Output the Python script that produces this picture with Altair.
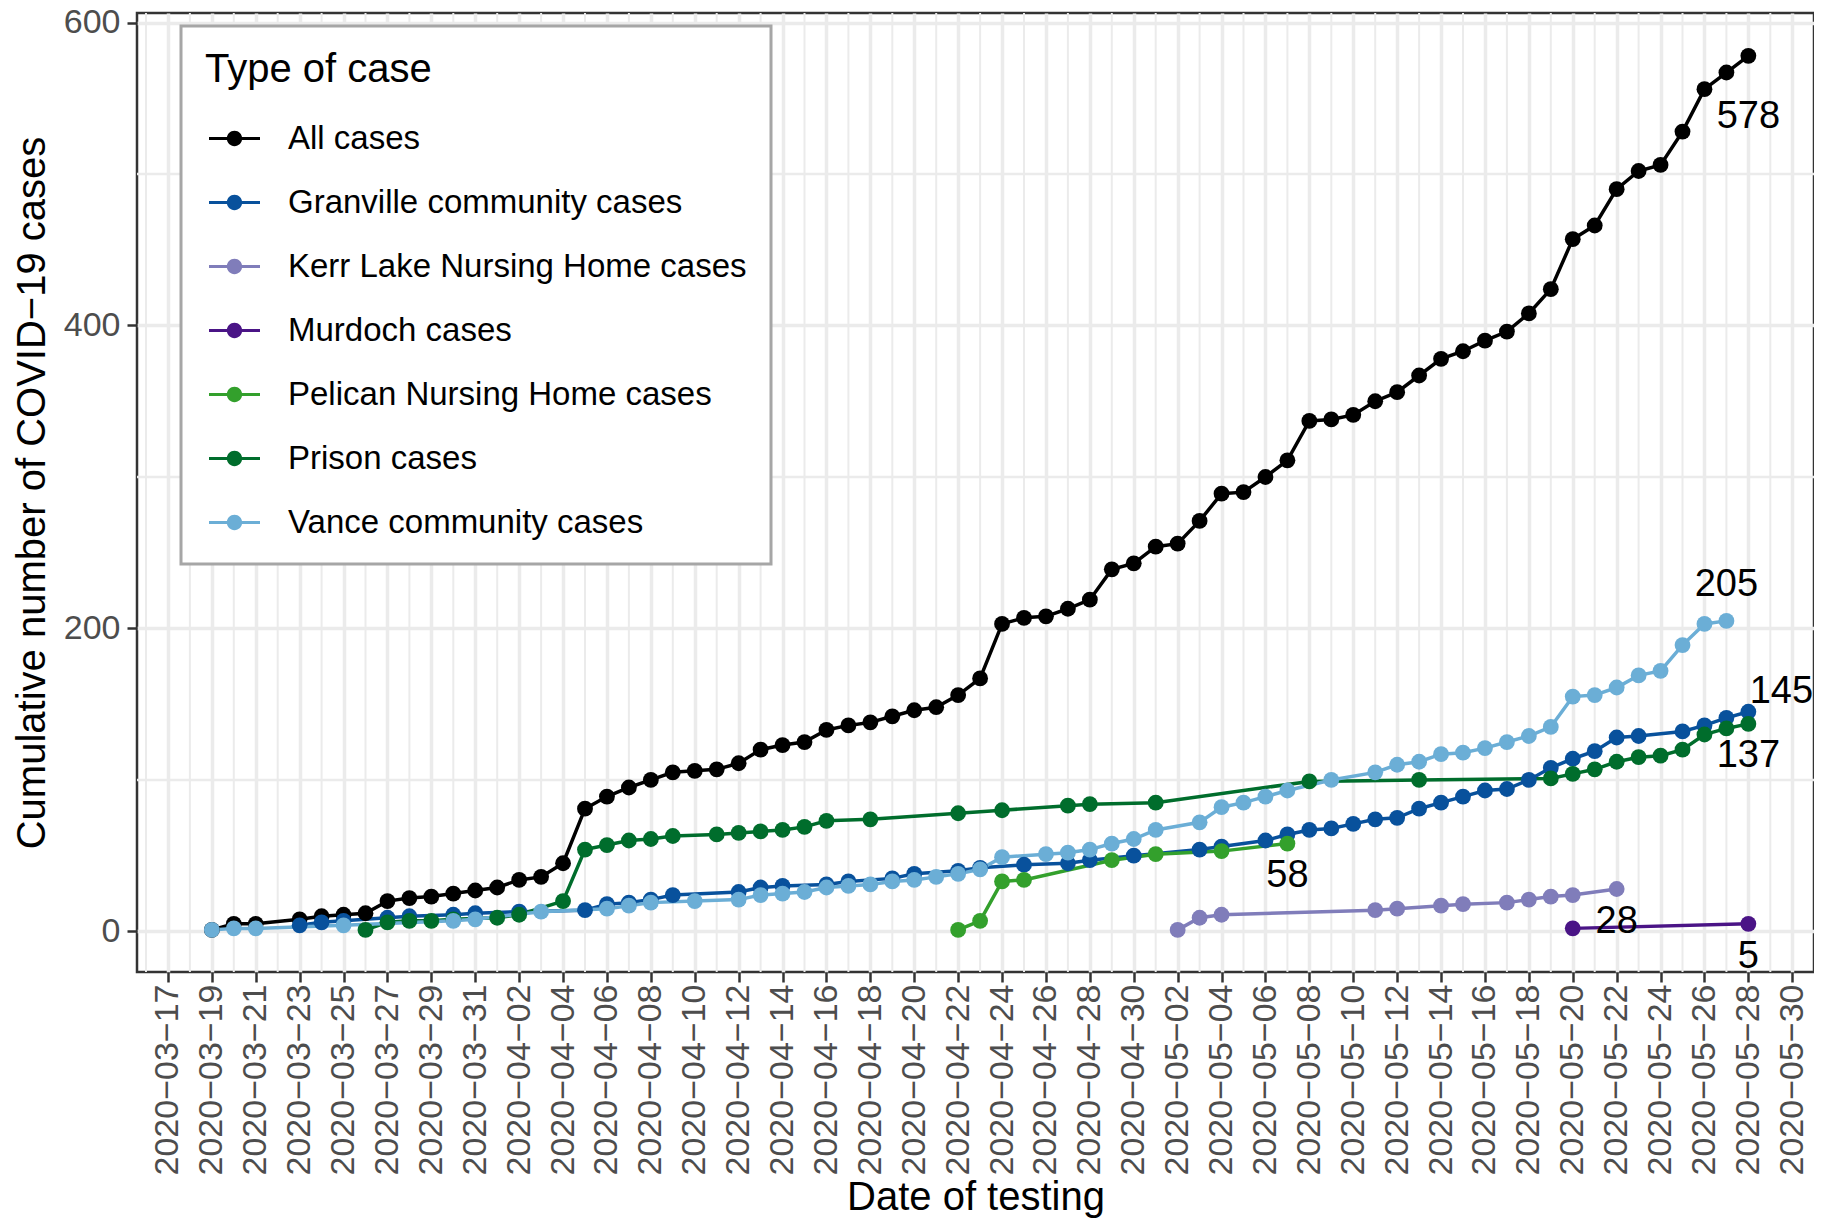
import altair as alt
import pandas as pd

FONT = "Liberation Sans"
MINUS = "\u2212"

series_names = [
    "All cases",
    "Granville community cases",
    "Kerr Lake Nursing Home cases",
    "Murdoch cases",
    "Pelican Nursing Home cases",
    "Prison cases",
    "Vance community cases",
]
series_colors = ["#000000", "#08519C", "#807DBA", "#4A1486", "#33A02C", "#006D2C", "#6BAED6"]

all_dates = ["03-19", "03-20", "03-21", "03-23", "03-24", "03-25", "03-26", "03-27", "03-28", "03-29",
             "03-30", "03-31", "04-01", "04-02", "04-03", "04-04", "04-05", "04-06", "04-07", "04-08",
             "04-09", "04-10", "04-11", "04-12", "04-13", "04-14", "04-15", "04-16", "04-17", "04-18",
             "04-19", "04-20", "04-21", "04-22", "04-23", "04-24", "04-25", "04-26", "04-27", "04-28",
             "04-29", "04-30", "05-01", "05-02", "05-03", "05-04", "05-05", "05-06", "05-07", "05-08",
             "05-09", "05-10", "05-11", "05-12", "05-13", "05-14", "05-15", "05-16", "05-17", "05-18",
             "05-19", "05-20", "05-21", "05-22", "05-23", "05-24", "05-25", "05-26", "05-27", "05-28"]
all_values = [1, 5, 5, 8, 10, 11, 12, 20, 22, 23,
              25, 27, 29, 34, 36, 45, 81, 89, 95, 100,
              105, 106, 107, 111, 120, 123, 125, 133, 136, 138,
              142, 146, 148, 156, 167, 203, 207, 208, 213, 219,
              239, 243, 254, 256, 271, 289, 290, 300, 311, 337,
              338, 341, 350, 356, 367, 378, 383, 390, 396, 408,
              424, 457, 466, 490, 502, 506, 528, 556, 567, 578]

granville_dates = ["03-23", "03-24", "03-25", "03-27", "03-28", "03-30", "03-31", "04-02", "04-05", "04-06",
                   "04-07", "04-08", "04-09", "04-12", "04-13", "04-14", "04-16", "04-17", "04-19", "04-20",
                   "04-22", "04-23", "04-25", "04-27", "04-28", "04-30", "05-03", "05-04", "05-06", "05-07",
                   "05-08", "05-09", "05-10", "05-11", "05-12", "05-13", "05-14", "05-15", "05-16", "05-17",
                   "05-18", "05-19", "05-20", "05-21", "05-22", "05-23", "05-25", "05-26", "05-27", "05-28"]
granville_values = [4, 6, 7, 9, 10, 11, 12, 13, 14, 18,
                    19, 21, 24, 26, 29, 30, 31, 33, 35, 38,
                    40, 42, 44, 45, 47, 50, 54, 56, 60, 64,
                    67, 68, 71, 74, 75, 81, 85, 89, 93, 94,
                    100, 108, 114, 119, 128, 129, 132, 136, 141, 145]

kerr_dates = ["05-02", "05-03", "05-04", "05-11", "05-12", "05-14", "05-15", "05-17", "05-18", "05-19",
              "05-20", "05-22"]
kerr_values = [1, 9, 11, 14, 15, 17, 18, 19, 21, 23, 24, 28]

murdoch_dates = ["05-20", "05-28"]
murdoch_values = [2, 5]

pelican_dates = ["04-22", "04-23", "04-24", "04-25", "04-29", "05-01", "05-04", "05-07"]
pelican_values = [1, 7, 33, 34, 47, 51, 53, 58]

prison_dates = ["03-26", "03-27", "03-28", "03-29", "03-30", "04-01", "04-02", "04-04", "04-05", "04-06",
                "04-07", "04-08", "04-09", "04-11", "04-12", "04-13", "04-14", "04-15", "04-16", "04-18",
                "04-22", "04-24", "04-27", "04-28", "05-01", "05-08", "05-13", "05-19", "05-20", "05-21",
                "05-22", "05-23", "05-24", "05-25", "05-26", "05-27", "05-28"]
prison_values = [1, 6, 7, 7, 8, 9, 11, 20, 54, 57,
                 60, 61, 63, 64, 65, 66, 67, 69, 73, 74,
                 78, 80, 83, 84, 85, 99, 100, 101, 104, 107,
                 112, 115, 116, 120, 130, 134, 137]

vance_dates = ["03-19", "03-20", "03-21", "03-25", "03-30", "03-31", "04-03", "04-06", "04-07", "04-08",
               "04-10", "04-12", "04-13", "04-14", "04-15", "04-16", "04-17", "04-18", "04-19", "04-20",
               "04-21", "04-22", "04-23", "04-24", "04-26", "04-27", "04-28", "04-29", "04-30", "05-01",
               "05-03", "05-04", "05-05", "05-06", "05-07", "05-09", "05-11", "05-12", "05-13", "05-14",
               "05-15", "05-16", "05-17", "05-18", "05-19", "05-20", "05-21", "05-22", "05-23", "05-24",
               "05-25", "05-26", "05-27"]
vance_values = [1, 2, 2, 4, 7, 8, 13, 15, 17, 19,
                20, 21, 24, 25, 26, 29, 30, 31, 33, 34,
                36, 38, 41, 49, 51, 52, 54, 58, 61, 67,
                72, 82, 85, 89, 93, 100, 105, 110, 112, 117,
                118, 121, 125, 129, 135, 155, 156, 161, 169, 172,
                189, 203, 205]

series_data = [
    (all_dates, all_values),
    (granville_dates, granville_values),
    (kerr_dates, kerr_values),
    (murdoch_dates, murdoch_values),
    (pelican_dates, pelican_values),
    (prison_dates, prison_values),
    (vance_dates, vance_values),
]

rows = []
for name, (dates, values) in zip(series_names, series_data):
    for d, v in zip(dates, values):
        rows.append({"series": name, "date": pd.Timestamp("2020-" + d), "cases": v})
df = pd.DataFrame(rows)

# end-of-series labels (text offsets are styling)
label_offsets = {
    "All cases": (0, 61),
    "Vance community cases": (0, -36),
    "Granville community cases": (33, -20),
    "Prison cases": (0, 32),
    "Pelican Nursing Home cases": (0, 32),
    "Kerr Lake Nursing Home cases": (0, 33),
    "Murdoch cases": (0, 33),
}

x_domain = [alt.DateTime(year=2020, month=3, date=15, hours=14, minutes=10),
            alt.DateTime(year=2020, month=5, date=30, hours=23, minutes=46)]
tick_days = pd.date_range("2020-03-17", "2020-05-30", freq="2D")
tick_values = [alt.DateTime(year=t.year, month=t.month, date=t.day) for t in tick_days]
minor_days = pd.date_range("2020-03-16", "2020-05-29", freq="2D")
minor_df = pd.DataFrame({"date": minor_days})
minor_y_df = pd.DataFrame({"cases": [100, 300, 500]})

x_scale = alt.Scale(domain=x_domain)
y_scale = alt.Scale(domain=[-26.8, 606.3], nice=False, zero=False)

x_axis = alt.Axis(
    values=tick_values, format="%Y" + MINUS + "%m" + MINUS + "%d", labelAngle=270, labelFontSize=34,
    labelColor="#4D4D4D", labelFont=FONT, labelPadding=2, labelLimit=400,
    labelOverlap=False, labelFlush=False, tickSize=10, tickWidth=2.5,
    tickColor="#333333", domain=False, grid=True, gridColor="#EBEBEB", gridWidth=3.5,
    title="Date of testing", titleFontSize=40, titleFont=FONT, titleFontWeight="normal",
    titleColor="black", titleY=237, titleBaseline="alphabetic",
)
y_axis = alt.Axis(
    values=[0, 200, 400, 600], labelFontSize=34, labelColor="#4D4D4D", labelFont=FONT,
    labelPadding=7, tickSize=10, tickWidth=2.5, tickColor="#333333", domain=False,
    grid=True, gridColor="#EBEBEB", gridWidth=3.5,
    title="Cumulative number of COVID" + MINUS + "19 cases", titleFontSize=40, titleFont=FONT,
    titleFontWeight="normal", titleColor="black", titleX=-93, titleBaseline="alphabetic",
    titleAngle=270,
)

X = alt.X("date:T", scale=x_scale, axis=x_axis)
Y = alt.Y("cases:Q", scale=y_scale, axis=y_axis)

color_scale = alt.Scale(domain=series_names, range=series_colors)

SYMBOL_PATH = ("M-1,-0.06L1,-0.06L1,0.06L-1,0.06Z "
               "M-0.3,0A0.3,0.3,0,1,1,0.3,0A0.3,0.3,0,1,1,-0.3,0Z")

legend = alt.Legend(
    title="Type of case", orient="none", legendX=44, legendY=13, direction="vertical",
    symbolType=SYMBOL_PATH, symbolSize=2601, symbolStrokeWidth=0, symbolOpacity=1,
    symbolOffset=4, labelOffset=28, labelFontSize=33, labelFont=FONT, labelColor="black",
    labelLimit=700, titleFontSize=40, titleFont=FONT, titleFontWeight="normal",
    titleColor="black", titleLimit=700, padding=24, rowPadding=21, titlePadding=23,
    strokeColor="#A6A6A6", fillColor="white",
)

minor_v = alt.Chart(minor_df).mark_rule(color="#EBEBEB", strokeWidth=2).encode(
    x=alt.X("date:T", scale=x_scale, axis=x_axis))
minor_h = alt.Chart(minor_y_df).mark_rule(color="#EBEBEB", strokeWidth=2.5).encode(
    y=alt.Y("cases:Q", scale=y_scale, axis=y_axis))

lines = alt.Chart(df).mark_line(strokeWidth=3.5).encode(
    x=X, y=Y,
    stroke=alt.Stroke("series:N", scale=color_scale, legend=None),
    detail="series:N",
)
points = alt.Chart(df).mark_circle(size=250, opacity=1).encode(
    x=X, y=Y,
    color=alt.Color("series:N", scale=color_scale, legend=legend),
)

layers = [minor_v, minor_h, lines, points]
for name, (dates, values) in zip(series_names, series_data):
    dx, dy = label_offsets[name]
    ldf = pd.DataFrame({"date": [pd.Timestamp("2020-" + dates[-1])], "cases": [values[-1]],
                        "label": [str(values[-1])]})
    layers.append(
        alt.Chart(ldf).mark_text(fontSize=38, font=FONT, color="black", dx=dx, dy=dy).encode(
            x=X, y=Y, text="label:N")
    )

chart = alt.layer(*layers).resolve_scale(color="independent", stroke="independent").properties(
    width=1677, height=959,
    autosize=alt.AutoSizeParams(type="none"),
    padding={"left": 129, "top": 5, "right": 0, "bottom": 246},
).configure_view(stroke="#333333", strokeWidth=2.5).configure_legend(strokeWidth=3)

chart.save("out.html", embed_options={"renderer": "svg", "actions": False})
